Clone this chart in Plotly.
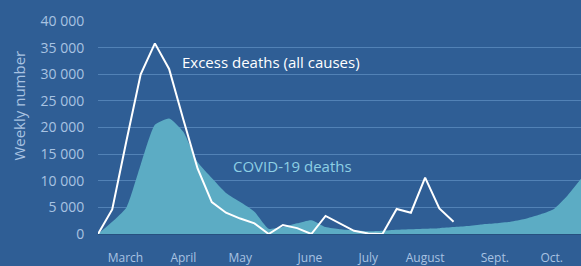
import plotly.graph_objects as go

# Week index (weekly data points)
weeks_excess = list(range(0, 26))
excess_deaths = [0, 4600, 17500, 30000, 35800, 31000, 21500, 12300, 6000, 4000,
                 2900, 2000, 0, 1700, 1100, 0, 3400, 2000, 600, 100,
                 0, 4700, 4000, 10600, 4800, 2300]

weeks_covid = list(range(0, 35))
covid_deaths = [0, 2300, 5000, 13000, 20500, 21700, 19200, 13500, 10500, 7700,
                6000, 4200, 1000, 1300, 2000, 2600, 1300, 900, 700, 500,
                600, 800, 900, 1000, 1100, 1300, 1500, 1800, 2000, 2300,
                2800, 3600, 4600, 7200, 10500]

month_positions = [1.93, 6.0, 10.0, 14.9, 19.0, 23.0, 27.9, 31.9]
month_labels = ["March", "April", "May", "June", "July", "August", "Sept.", "Oct."]

y_ticks = [0, 5000, 10000, 15000, 20000, 25000, 30000, 35000, 40000]
y_tick_labels = ["0", "5 000", "10 000", "15 000", "20 000", "25 000", "30 000", "35 000", "40 000"]

BG = "#2f5e95"
AREA = "#5cacc4"
TICK = "#a9c3e2"
GRID = "#5282b6"
FONT = "Open Sans"

fig = go.Figure()
fig.add_trace(go.Scatter(
    x=weeks_covid, y=covid_deaths, mode="lines", fill="tozeroy",
    line=dict(color=AREA, width=0, shape="spline", smoothing=0.5),
    fillcolor=AREA, hoverinfo="skip", showlegend=False))
fig.add_trace(go.Scatter(
    x=weeks_excess, y=excess_deaths, mode="lines",
    line=dict(color="white", width=2), showlegend=False))

plot_w = 581 - 97.5
plot_h = 234 - 21

def px_x(px):
    return (px - 97.5) / plot_w

def px_y(py):
    return (234 - py) / plot_h

fig.add_annotation(text="Excess deaths (all causes)", x=px_x(180), y=px_y(62),
                   xref="paper", yref="paper", xanchor="left", yanchor="middle",
                   showarrow=False, font=dict(family=FONT, size=15, color="white"))
fig.add_annotation(text="COVID-19 deaths", x=px_x(231), y=px_y(166),
                   xref="paper", yref="paper", xanchor="left", yanchor="middle",
                   showarrow=False, font=dict(family=FONT, size=15, color="#8dcfe4"))
fig.add_annotation(text="Weekly number", x=px_x(18), y=px_y(106),
                   xref="paper", yref="paper", xanchor="center", yanchor="middle",
                   textangle=-90, showarrow=False,
                   font=dict(family=FONT, size=15, color=TICK))

fig.update_layout(
    width=581, height=266,
    margin=dict(l=97.5, r=0, t=21, b=32, autoexpand=False),
    paper_bgcolor=BG, plot_bgcolor=BG,
    font=dict(family=FONT, color=TICK),
    xaxis=dict(range=[0, 33.96], tickvals=month_positions, ticktext=month_labels,
               showgrid=False, zeroline=False, showline=False, automargin=False,
               ticks="outside", ticklen=13, tickcolor="rgba(0,0,0,0)",
               tickfont=dict(family=FONT, size=12, color=TICK)),
    yaxis=dict(range=[0, 40000], tickvals=y_ticks, ticktext=y_tick_labels,
               showgrid=True, gridcolor=GRID, gridwidth=1,
               zeroline=True, zerolinecolor="#27507f", zerolinewidth=2,
               showline=False, automargin=False,
               ticks="outside", ticklen=10, tickcolor="rgba(0,0,0,0)",
               tickfont=dict(family=FONT, size=14, color=TICK)),
)

fig.write_html("out.html", config={"displayModeBar": False},
               post_script="document.body.style.margin='0';document.body.style.background='%s';" % BG)
